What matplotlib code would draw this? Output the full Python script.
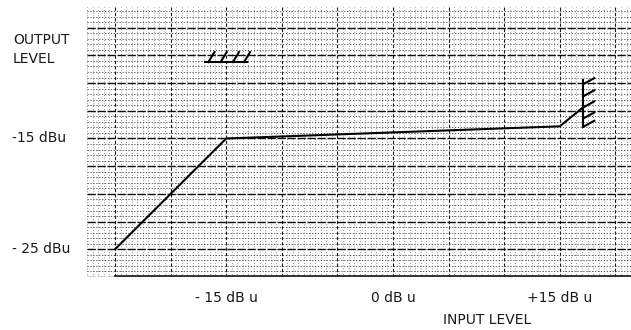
import numpy as np
import matplotlib
matplotlib.use('Agg')
import matplotlib.pyplot as plt
from matplotlib.ticker import MultipleLocator

# transfer curve (input dBu -> output dBu)
input_db = [-25.0, -15.0, 15.0, 17.2]
output_db = [-25.0, -15.0, -13.9, -12.1]

# clip marker at the top (horizontal base with slashes)
top_mark_x = [-16.9, -13.1]
top_mark_y = -8.1
top_slashes = [-16.6, -15.5, -14.4, -13.4]

# limit marker on the right (vertical base with ticks)
right_mark_x = 17.1
right_mark_y = [-14.0, -9.7]
right_ticks = [-13.95, -13.2, -12.2, -11.2, -10.1]

y_labels = {-15: '-15 dBu', -25: '- 25 dBu'}
x_labels = {-15: '- 15 dB u', 0: '0 dB u', 15: '+15 dB u'}

W, H = 631, 330
fig = plt.figure(figsize=(W / 100, H / 100), dpi=100)

# axes placed in pixel terms: x -27.5 at 87px, y -27.5 at 277px
x0, x1 = -27.5, 21.4
y0, y1 = -27.5, -3.1
px_x = 11.12
px_y = 11.08
left = 115 - 2.5 * px_x
right = left + (x1 - x0) * px_x
bottom = 277
top = bottom - (y1 - y0) * px_y
ax = fig.add_axes([left / W, 1 - bottom / H, (right - left) / W, (bottom - top) / H])
ax.set_xlim(x0, x1)
ax.set_ylim(y0, y1)

# graph paper grid
ax.xaxis.set_major_locator(MultipleLocator(5))
ax.xaxis.set_minor_locator(MultipleLocator(0.5))
ax.yaxis.set_major_locator(MultipleLocator(2.5))
ax.yaxis.set_minor_locator(MultipleLocator(0.5))
ax.grid(which='minor', axis='x', color='0.35', lw=0.55, ls=(0, (1, 2.6)))
ax.grid(which='minor', axis='y', color='0.25', lw=0.6, ls=(0, (1.5, 2)))
ax.grid(which='major', axis='x', color='0.1', lw=0.8, ls=(0, (3, 1.8)))
ax.grid(which='major', axis='y', color='0.05', lw=1.0, ls=(0, (6, 1.2)))
ax.tick_params(which='both', length=0, labelbottom=False, labelleft=False)
for s in ax.spines.values():
    s.set_visible(False)
ax.set_axisbelow(True)

# bottom edge of the paper, solid from the input axis onwards
ax.plot([-25, x1], [y0 + 0.05, y0 + 0.05], color='0.15', lw=1.3, clip_on=False)

# the curve
ax.plot(input_db, output_db, color='black', lw=1.5, solid_capstyle='round')

# top clip marker
ax.plot(top_mark_x, [top_mark_y, top_mark_y], color='black', lw=1.5)
for sx in top_slashes:
    ax.plot([sx, sx + 0.55], [top_mark_y, top_mark_y + 0.9], color='black', lw=1.5)

# right limit marker
ax.plot([right_mark_x, right_mark_x], right_mark_y, color='black', lw=1.5)
for ty in right_ticks:
    ax.plot([right_mark_x, right_mark_x + 1.0], [ty, ty + 0.55], color='black', lw=1.5)

# labels
font = dict(family='DejaVu Sans', fontsize=10, color='#1a1a1a')
fig.text(13 / W, 1 - 40 / H, 'OUTPUT', ha='left', va='center', **font)
fig.text(13 / W, 1 - 59 / H, 'LEVEL', ha='left', va='center', **font)
for val, txt in y_labels.items():
    yp = bottom - (val - y0) * px_y
    fig.text(12 / W, 1 - yp / H, txt, ha='left', va='center', **font)
for val, txt in x_labels.items():
    xp = left + (val - x0) * px_x
    fig.text(xp / W, 1 - 298 / H, txt, ha='center', va='center', **font)
fig.text(487 / W, 1 - 320 / H, 'INPUT LEVEL', ha='center', va='center', **font)

fig.savefig('out.png', dpi=100)
plt.close(fig)
